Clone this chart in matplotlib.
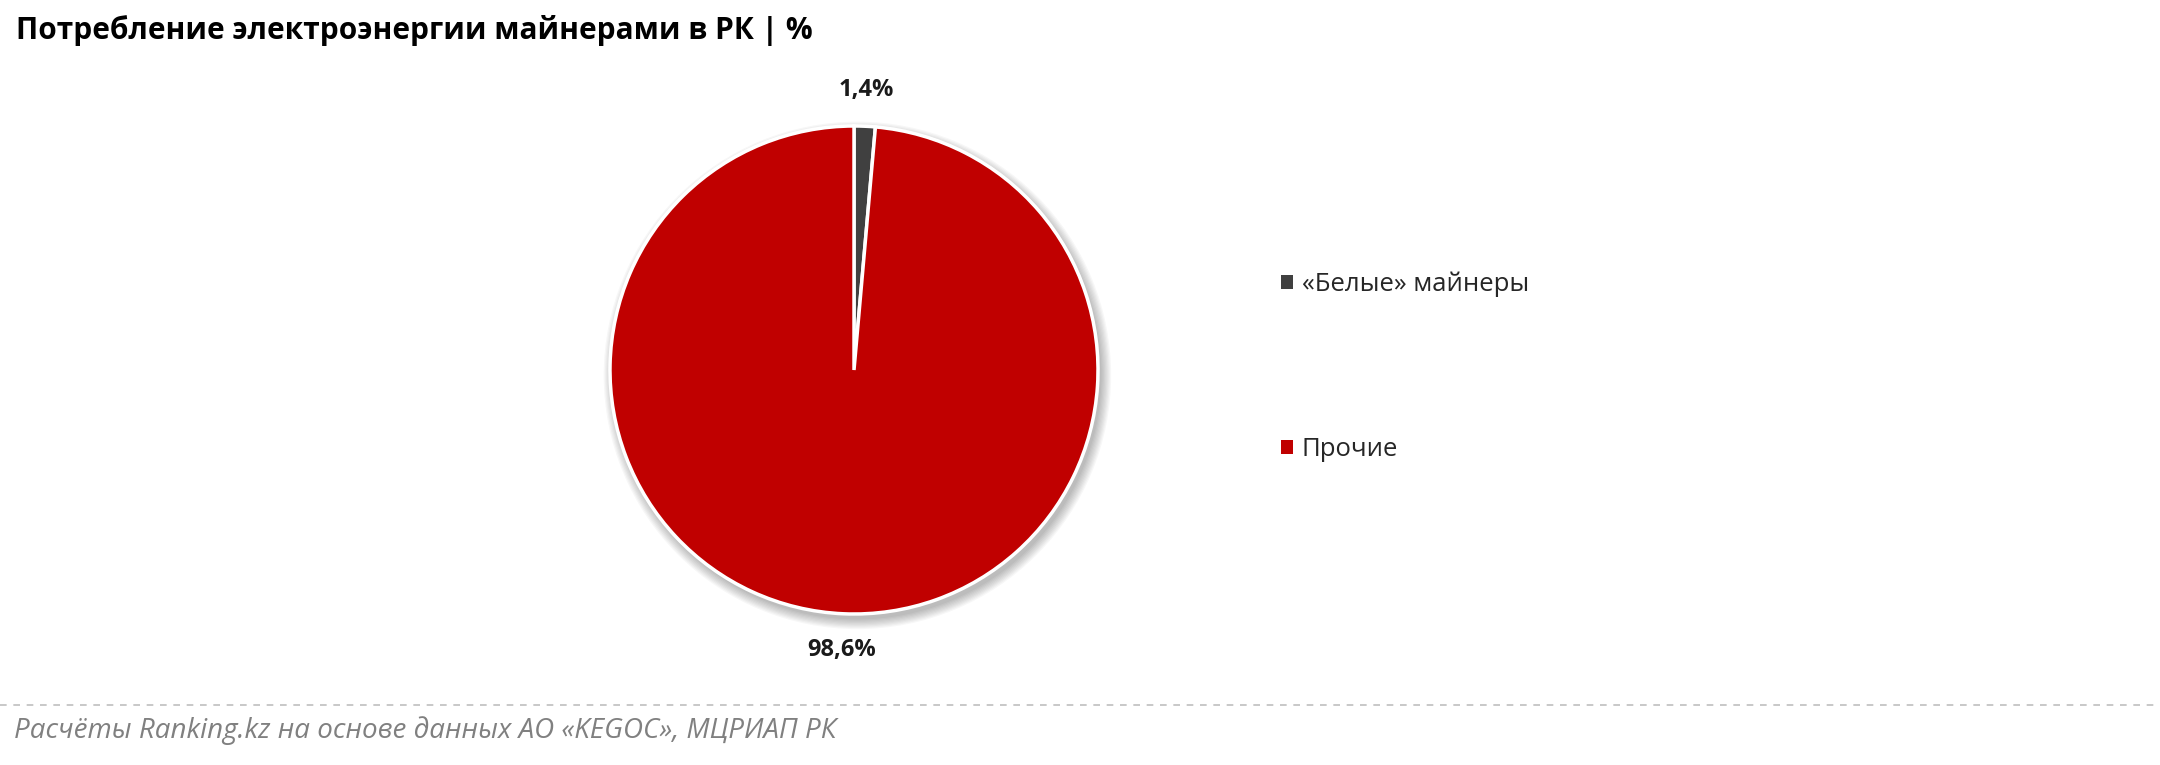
import matplotlib
matplotlib.use("Agg")
import matplotlib.pyplot as plt
from matplotlib.patches import Circle
from matplotlib.lines import Line2D

# data
labels = ['«Белые» майнеры', 'Прочие']
shares = [1.4, 98.6]
colors = ['#404040', '#C00000']

title = 'Потребление электроэнергии майнерами в РК | %'
source = 'Расчёты Ranking.kz на основе данных АО «KEGOC», МЦРИАП РК'

plt.rcParams['font.family'] = ['Open Sans', 'DejaVu Sans']

W, H = 2160, 765
fig = plt.figure(figsize=(W / 100, H / 100), dpi=100)

# square axes around the pie centre, radius ~244 px
size = 620
cx, cy = 854, H - 370
ax = fig.add_axes([(cx - size / 2) / W, (cy - size / 2) / H, size / W, size / H])
lim = size / 2 / 244

# soft shadow under the pie
for i in range(9):
    ax.add_patch(Circle((0.014, -0.022), 1 + 0.005 * i, color='black',
                        alpha=0.03, zorder=0, linewidth=0))


def fmt(p):
    return f'{p:.1f}'.replace('.', ',') + '%'


wedges, texts, autotexts = ax.pie(
    shares, colors=colors, startangle=90, counterclock=False,
    autopct=fmt, pctdistance=1.15,
    wedgeprops=dict(edgecolor='white', linewidth=2.5),
)
for w in wedges:
    w.set_zorder(2)
for t in autotexts:
    t.set_fontsize(17)
    t.set_fontweight('bold')
    t.set_color('#1a1a1a')

ax.set_xlim(-lim, lim)
ax.set_ylim(-lim, lim)
ax.set_aspect('equal')
ax.axis('off')

leg = fig.legend(wedges, labels, loc='center left',
                 bbox_to_anchor=(1258 / W, 1 - 367 / H),
                 frameon=False, fontsize=18.5, handlelength=0.45,
                 handleheight=0.45, handletextpad=0.35, labelspacing=5.45)
for h in leg.legend_handles:
    h.set_linewidth(0)
for t in leg.get_texts():
    t.set_color('#262626')

fig.text(16 / W, 1 - 30 / H, title, fontsize=21.5, fontweight='bold',
         va='center', color='#000000')

fig.add_artist(Line2D([0, 1], [1 - 705 / H] * 2, transform=fig.transFigure,
                      color='#BFBFBF', linestyle=(0, (4, 4)), linewidth=1.2))

fig.text(14 / W, 1 - 731 / H, source, fontsize=20, style='italic',
         va='center', color='#808080')

fig.savefig('out.png', dpi=100)
